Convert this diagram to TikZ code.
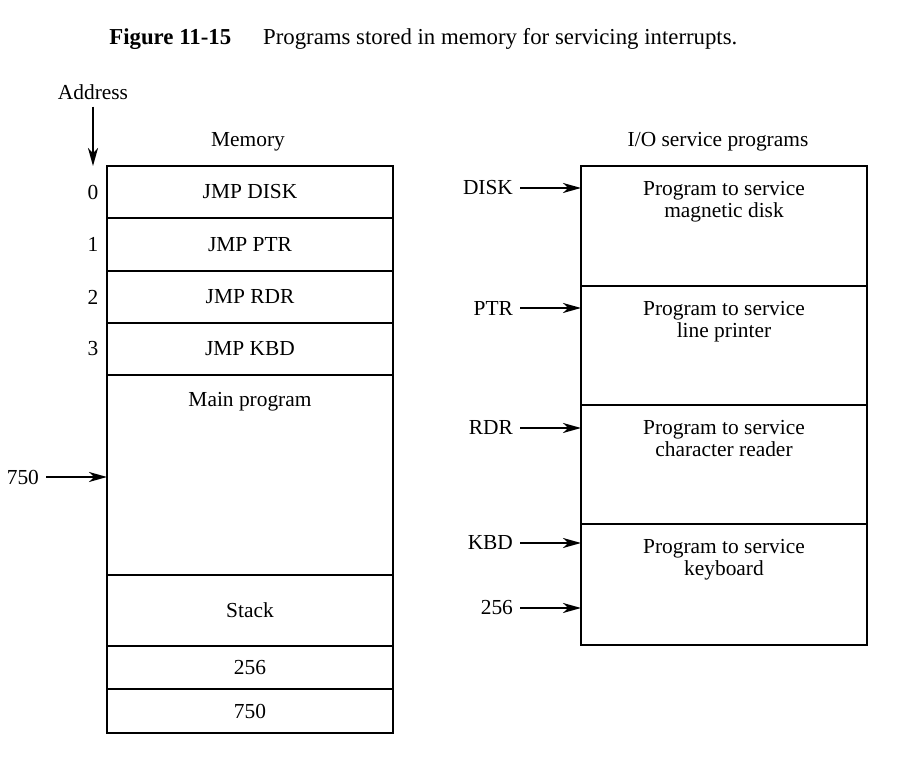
\documentclass[tikz,border=0pt]{standalone}
\usepackage{fontspec}
\setmainfont{Liberation Serif}
\usetikzlibrary{arrows.meta}

\begin{document}
\begin{tikzpicture}[
  x=0.5pt, y=-0.5pt,
  font=\fontsize{10.7}{11}\selectfont,
  >={Stealth[length=9pt,width=5pt,inset=2.6pt]},
  cell/.style={draw, line width=1.1pt, minimum width=143pt, inner sep=0pt, outer sep=0pt, anchor=north west},
  ptr/.style={->, line width=0.9pt},
  label/.style={align=center, inner sep=0pt, anchor=north}
]
\useasboundingbox (0,0) rectangle (922,769);

\node[anchor=base west, inner sep=0pt, font=\fontsize{11.4}{13}\selectfont] (title) at (109,45)
  {\textbf{Figure 11-15}\hspace{1.4em}Programs stored in memory for servicing interrupts.};

% memory
\node (memlbl) at (248,142) {Memory};
\node[cell, minimum height=26pt] (m0) at (107,166) {JMP DISK};
\node[cell, minimum height=26.5pt] (m1) at (m0.south west) {JMP PTR};
\node[cell, minimum height=26pt] (m2) at (m1.south west) {JMP RDR};
\node[cell, minimum height=26pt] (m3) at (m2.south west) {JMP KBD};
\node[cell, minimum height=100pt] (main) at (m3.south west) {};
\node[label] at ([yshift=-8.5pt]main.north) {Main program};
\node[cell, minimum height=35.5pt] (stack) at (main.south west) {Stack};
\node[cell, minimum height=21.5pt] (s256) at (stack.south west) {256};
\node[cell, minimum height=22pt] (s750) at (s256.south west) {750};

\node (addr) at (93,92) {Address};
\draw[ptr] (addr.south) -- (addr.south |- m0.north);
\node (a0) at ([xshift=-7pt]m0.west) {0};
\node (a1) at ([xshift=-7pt]m1.west) {1};
\node (a2) at ([xshift=-7pt]m2.west) {2};
\node (a3) at ([xshift=-7pt]m3.west) {3};

\node[anchor=east] (ret) at (46,477) {750};
\draw[ptr] (ret.east) -- (ret -| main.west);

% service programs
\node (iolbl) at (718,142) {I/O service programs};
\node[cell, minimum height=60pt] (disk) at (581,166) {};
\node[cell, minimum height=59.5pt] (prt) at (disk.south west) {};
\node[cell, minimum height=59.5pt] (rdr) at (prt.south west) {};
\node[cell, minimum height=60.5pt] (kbd) at (rdr.south west) {};
\node[label] at ([yshift=-7.5pt]disk.north) {Program to service\\magnetic disk};
\node[label] at ([yshift=-7.5pt]prt.north) {Program to service\\line printer};
\node[label] at ([yshift=-7.5pt]rdr.north) {Program to service\\character reader};
\node[label] at ([yshift=-7.5pt]kbd.north) {Program to service\\keyboard};

\node[anchor=east] (ldisk) at (520,188) {DISK};
\node[anchor=east] (lprt) at (520,308) {PTR};
\node[anchor=east] (lrdr) at (520,428) {RDR};
\node[anchor=east] (lkbd) at (520,543) {KBD};
\node[anchor=east] (l256) at (520,608) {256};
\draw[ptr] (ldisk.east) -- (ldisk -| disk.west);
\draw[ptr] (lprt.east) -- (lprt -| prt.west);
\draw[ptr] (lrdr.east) -- (lrdr -| rdr.west);
\draw[ptr] (lkbd.east) -- (lkbd -| kbd.west);
\draw[ptr] (l256.east) -- (l256 -| kbd.west);

\end{tikzpicture}
\end{document}
